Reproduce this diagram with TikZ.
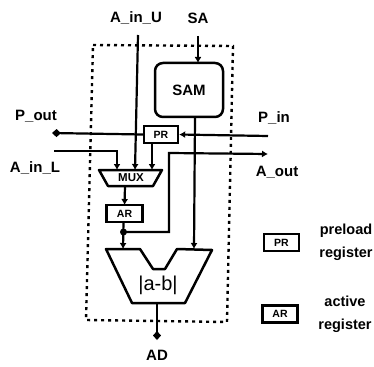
\documentclass[tikz,border=0pt]{standalone}
\usepackage{fontspec}
\setmainfont{Liberation Sans}
\usetikzlibrary{arrows.meta}
\tikzset{
  lbl/.style={inner sep=0pt,font=\fontsize{15}{17}\selectfont\bfseries},
  leg/.style={inner sep=0pt,align=center,font=\fontsize{14.5}{22.5}\selectfont\bfseries},
  regbox/.style={draw,line width=2.4pt,inner sep=0pt,minimum height=17pt,font=\fontsize{10.5}{12}\selectfont\bfseries},
  blockln/.style={draw,line width=2.5pt,line join=round},
  wire/.style={line width=2.2pt},
  arr/.style={wire,-{Latex[length=6pt,width=7pt]}},
  kitearr/.style={wire,-{Kite[length=9pt,width=8pt,inset=4.5pt]}},
  jdot/.style={circle,fill=black,inner sep=0pt,minimum size=7pt},
  frame/.style={line width=2.4pt,dash pattern=on 3pt off 4pt}
}
\begin{document}
\begin{tikzpicture}[x=1pt,y=-1pt]
\useasboundingbox (0,0) rectangle (374,366);
\draw[frame] (93,45) -- (233,46) -- (227,322) -- (86,320) -- cycle;
% blocks
\node[draw,line width=2.5pt,rounded corners=8pt,minimum width=68pt,minimum height=54pt,inner sep=0pt,font=\fontsize{15}{17}\selectfont\bfseries] (sam) at (189,90) {SAM};
\node[regbox,minimum width=34pt] (pr) at (161,134.5) {PR};
\node[regbox,minimum width=36pt] (ar) at (124.5,213.5) {AR};
\draw[blockln] (99,170) -- (162,170) -- (153,186) -- (108,186) -- cycle;
\node[inner sep=0pt,font=\fontsize{11.5}{13}\selectfont\bfseries] (mux) at (131,178) {MUX};
\draw[blockln] (106,249) -- (140,249) -- (153,269) -- (165,269) -- (177,249) -- (212,250) -- (185,303) -- (132,303) -- cycle;
\node[inner sep=0pt,font=\fontsize{20}{22}\selectfont] (diff) at (158,285) {|a-b|};
% labels
\node[lbl] (ainu) at (136,18) {A\_in\_U};
\node[lbl] (sa) at (198,18) {SA};
\node[lbl] (pout) at (36,116) {P\_out};
\node[lbl] (ainl) at (35,168) {A\_in\_L};
\node[lbl] (pin) at (274,118) {P\_in};
\node[lbl] (aout) at (277,172) {A\_out};
\node[lbl] (ad) at (157,355) {AD};
% coordinates
\coordinate (ainuS) at (138,35);
\coordinate (muxU) at (135,170);
\coordinate (saS) at (198,36);
\coordinate (samT) at (198,63);
\coordinate (pinE) at (268,136);
\coordinate (poutE) at (52,133);
\coordinate (ainlS) at (54,151);
\coordinate (ainlC) at (117,151);
\coordinate (muxL) at (117,170);
\coordinate (aoutE) at (268,154);
\coordinate (aoutC) at (169,153);
\coordinate (jc) at (169,232);
\coordinate (samB) at (195,118);
\coordinate (diffR) at (194,249);
\coordinate (diffL) at (123,249);
\coordinate (arT) at (124.5,205);
\coordinate (muxB) at (125,186);
\coordinate (arB) at (123.5,222);
\coordinate (diffB) at (157,303);
\coordinate (adE) at (157,340);
\coordinate (prS) at (152,143);
\coordinate (muxP) at (152,170);
\node[jdot] (j) at (123.5,232) {};
% connectors
\draw[arr] (ainuS) -- (muxU);
\draw[arr] (saS) -- (samT);
\draw[arr] (pinE) -- (pr.east);
\draw[kitearr] (pr.west) -- (poutE);
\draw[arr] (ainlS) -- (ainlC) -- (muxL);
\draw[arr] (prS) -- (muxP);
\draw[arr] (j.center) -- (jc) -- (aoutC) -- (aoutE);
\draw[arr] (samB) -- (diffR);
\draw[arr] (muxB) -- (arT);
\draw[arr] (arB) -- (diffL);
\draw[kitearr] (diffB) -- (adE);
% legend
\node[regbox,minimum width=35pt] (lpr) at (281.5,242.5) {PR};
\node[regbox,minimum width=35pt] (lar) at (280,314) {AR};
\node[leg] (tpr) at (346,242.5) {preload\\register};
\node[leg] (tar) at (345,314.5) {active\\register};
\end{tikzpicture}
\end{document}
